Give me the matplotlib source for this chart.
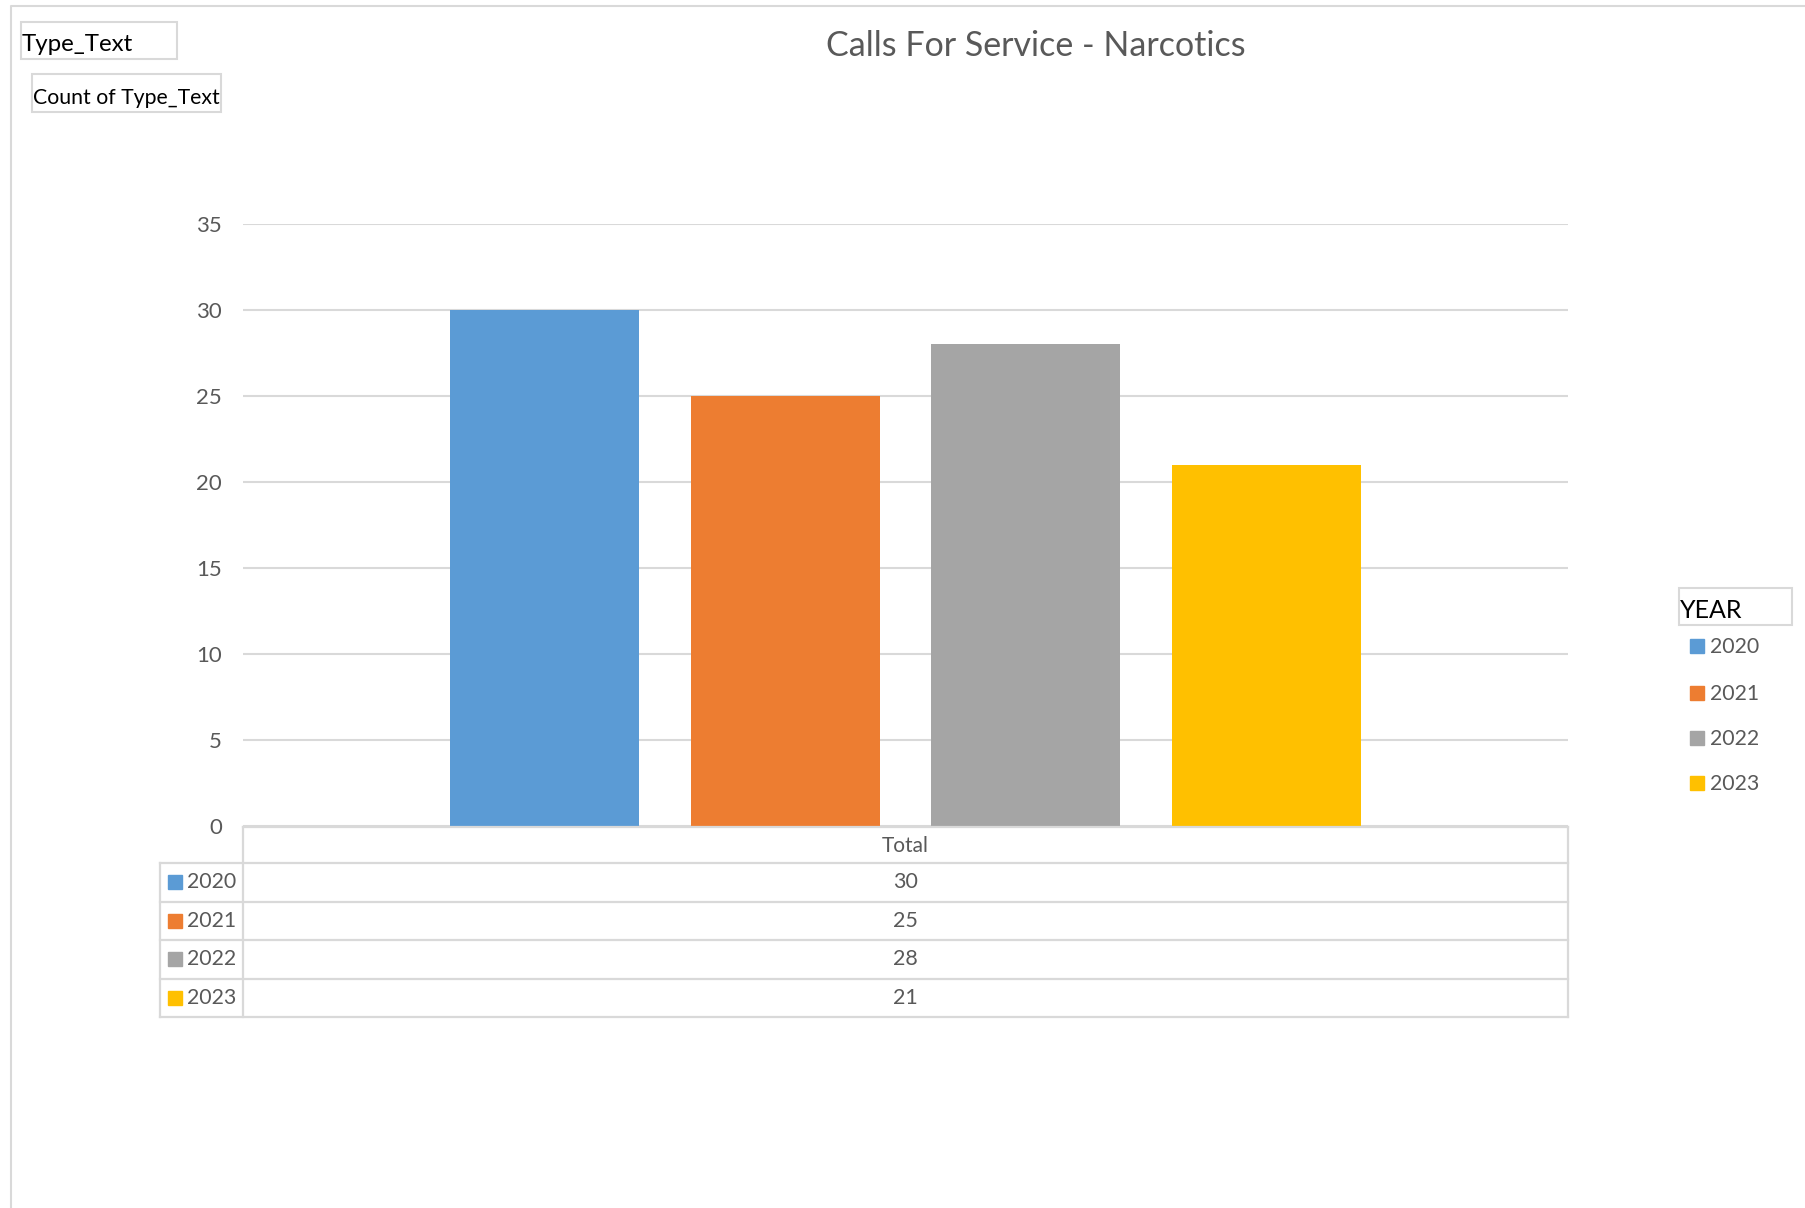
import matplotlib
matplotlib.use("Agg")
import matplotlib.pyplot as plt
from matplotlib.patches import Rectangle
from matplotlib.lines import Line2D
import numpy as np

plt.rcParams['font.family'] = ['Lato', 'DejaVu Sans']

# dati
anni = ["2020", "2021", "2022", "2023"]
valori = [30, 25, 28, 21]
colori = ["#5B9BD5", "#ED7D31", "#A5A5A5", "#FFC000"]
categoria = "Total"
titolo = "Calls For Service - Narcotics"
yticks = [0, 5, 10, 15, 20, 25, 30, 35]

GRIGIO = "#595959"
LINEA = "#D9D9D9"
W, H = 1806, 1208


def fx(px):
    return px / W


def fy(py):
    return 1 - py / H


def box_testo(fig, x0, y0, x1, y1, testo, size, dy=4):
    fig.patches.append(Rectangle((fx(x0), fy(y1)), fx(x1) - fx(x0), fy(y0) - fy(y1),
                                 transform=fig.transFigure, fill=False,
                                 edgecolor=LINEA, lw=1.5))
    fig.text(fx(x0 + 1), fy((y0 + y1) / 2 + dy), testo, ha="left", va="center",
             fontsize=size, color="black")


fig = plt.figure(figsize=(W / 100, H / 100), dpi=100)

# cornice esterna
fig.lines.append(Line2D([fx(11), fx(11), fx(W)], [0, fy(6), fy(6)],
                        transform=fig.transFigure, color=LINEA, lw=1.5))

# grafico a barre
ax = fig.add_axes([fx(243), fy(826), fx(1568) - fx(243), fy(224) - fy(826)])
passo = 0.1815
larg = 0.1427
pos = (np.arange(len(anni)) - (len(anni) - 1) / 2) * passo
ax.bar(pos, valori, width=larg, color=colori, zorder=3)
ax.set_xlim(-0.5, 0.5)
ax.set_ylim(0, 35)
ax.set_yticks(yticks)
ax.set_yticklabels([str(t) for t in yticks], color=GRIGIO, fontsize=16)
ax.tick_params(axis="y", length=0, pad=15)
ax.set_xticks([])
ax.yaxis.grid(True, color=LINEA, lw=1.5, zorder=0)
for s in ax.spines.values():
    s.set_visible(False)

# titolo
fig.text(fx(1036), fy(46), titolo, ha="center", va="center", fontsize=24.5, color=GRIGIO)

# etichette pivot
box_testo(fig, 21, 22, 177, 59, "Type_Text", 17.3, dy=4)
box_testo(fig, 32, 74, 221, 112, "Count of Type_Text", 15.3, dy=5)

# legenda
box_testo(fig, 1679, 588, 1792, 625, "YEAR", 18, dy=4)
leg_y = [646, 693, 738, 783]
for anno, col, y in zip(anni, colori, leg_y):
    fig.patches.append(Rectangle((fx(1690), fy(y + 7)), fx(14), 14 / H,
                                 transform=fig.transFigure, color=col))
    fig.text(fx(1710), fy(y + 1), anno, ha="left", va="center", fontsize=15.3, color=GRIGIO)

# tabella dati
top, head, bottom = 827, 863, 1017
righe = np.linspace(head, bottom, len(anni) + 1)
tl = dict(transform=fig.transFigure, color=LINEA, lw=1.6)
fig.lines.append(Line2D([fx(243), fx(1568)], [fy(top), fy(top)], **tl))
fig.lines.append(Line2D([fx(243), fx(243)], [fy(top), fy(bottom)], **tl))
fig.lines.append(Line2D([fx(1568), fx(1568)], [fy(top), fy(bottom)], **tl))
fig.lines.append(Line2D([fx(160), fx(160)], [fy(head), fy(bottom)], **tl))
for r in righe:
    fig.lines.append(Line2D([fx(160), fx(1568)], [fy(r), fy(r)], **tl))
xc = (243 + 1568) / 2
fig.text(fx(xc), fy((top + head) / 2 + 1), categoria, ha="center", va="center",
         fontsize=15, color=GRIGIO)
for i, (anno, v, col) in enumerate(zip(anni, valori, colori)):
    yc = (righe[i] + righe[i + 1]) / 2
    fig.patches.append(Rectangle((fx(168), fy(yc + 7)), fx(14), 14 / H,
                                 transform=fig.transFigure, color=col))
    fig.text(fx(187), fy(yc), anno, ha="left", va="center", fontsize=15.3, color=GRIGIO)
    fig.text(fx(xc), fy(yc), str(v), ha="center", va="center", fontsize=15.5, color=GRIGIO)

fig.savefig("out.png", dpi=100, facecolor="white")
